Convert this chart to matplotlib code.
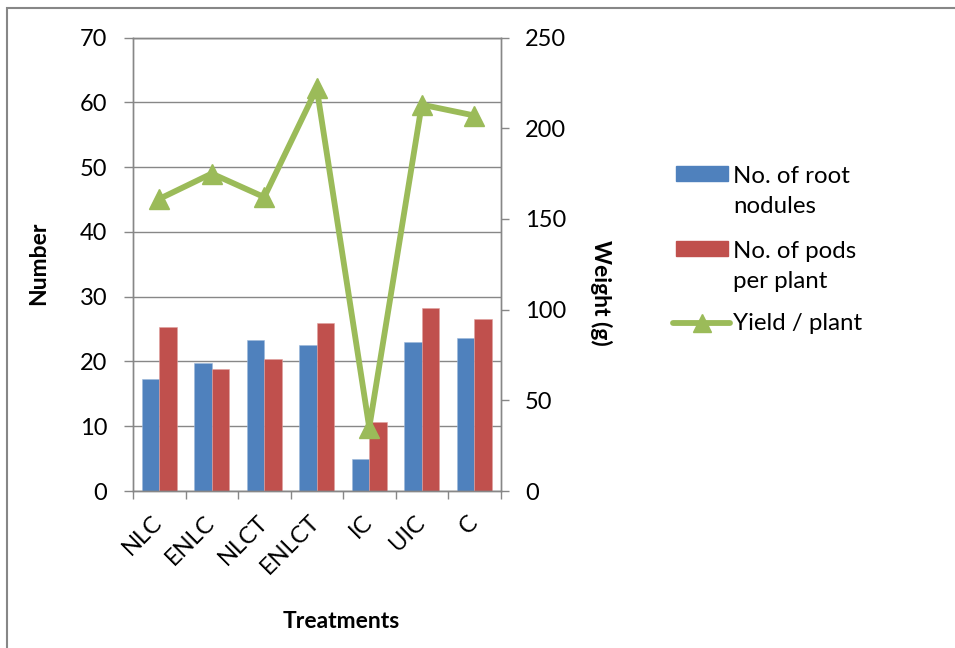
import matplotlib
matplotlib.use("Agg")
import matplotlib.pyplot as plt
from matplotlib.patches import Rectangle
from matplotlib.lines import Line2D
import numpy as np

plt.rcParams['font.family'] = ['Lato', 'DejaVu Sans']

# Data
treatments = ["NLC", "ENLC", "NLCT", "ENLCT", "IC", "UIC", "C"]
root_nodules = [17.3, 19.7, 23.3, 22.6, 4.9, 23.0, 23.6]
pods_per_plant = [25.3, 18.8, 20.3, 25.9, 10.6, 28.3, 26.5]
yield_per_plant = [161, 175, 162, 222, 35, 213, 207]

BLUE = "#4F81BD"
RED = "#C0504D"
GREEN = "#9BBB59"
GRID = "#878787"

W, H = 955, 648
fig = plt.figure(figsize=(W / 100, H / 100), dpi=100)

def fx(px):
    return px / W

def fy(py):
    return 1 - py / H

ax = fig.add_axes([fx(133), fy(491), fx(500.5) - fx(133), fy(37.5) - fy(491)])
x = np.arange(len(treatments))
bw = 0.33
ax.bar(x - bw / 2, root_nodules, width=bw, color=BLUE, edgecolor="#9db8db", linewidth=0.4, zorder=2)
ax.bar(x + bw / 2, pods_per_plant, width=bw, color=RED, edgecolor="#e0a09e", linewidth=0.4, zorder=2)

ax.set_xlim(-0.5, len(treatments) - 0.5)
ax.set_ylim(0, 70)
ax.set_yticks(np.arange(0, 71, 10))
ax.yaxis.grid(True, color=GRID, linewidth=1.0, zorder=0)
ax.set_axisbelow(True)
for side in ["left", "bottom", "right", "top"]:
    ax.spines[side].set_color(GRID)
    ax.spines[side].set_linewidth(1.0)
ax.tick_params(axis="y", direction="out", length=6.5, width=1.0, color=GRID,
               labelsize=17, pad=12)
ax.set_xticks(x)
ax.set_xticklabels(treatments, rotation=45, ha="right", va="center",
                   rotation_mode="anchor", fontsize=17)
ax.tick_params(axis="x", which="major", length=0, pad=20)
ax.set_xticks(np.arange(-0.5, len(treatments), 1), minor=True)
ax.tick_params(axis="x", which="minor", direction="out", length=6, width=1.0, color=GRID)

ax2 = ax.twinx()
ax2.plot(x, yield_per_plant, color=GREEN, linewidth=4.2, marker="^",
         markersize=14.5, markerfacecolor=GREEN, markeredgecolor=GREEN,
         solid_joinstyle="miter", zorder=3)
ax2.set_ylim(0, 250)
ax2.set_yticks(np.arange(0, 251, 50))
for side in ["left", "bottom", "right", "top"]:
    ax2.spines[side].set_color(GRID)
    ax2.spines[side].set_linewidth(1.0)
ax2.tick_params(axis="y", direction="out", length=6, width=1.0, color=GRID,
                labelsize=17, pad=11.5)

# Axis titles
title_fs = 16.5
fig.text(fx(39), fy(263), "Number", fontsize=title_fs, fontweight="bold",
         rotation=90, ha="center", va="center")
fig.text(fx(601), fy(293), "Weight (g)", fontsize=title_fs, fontweight="bold",
         rotation=270, ha="center", va="center")
fig.text(fx(341), fy(621), "Treatments", fontsize=title_fs, fontweight="bold",
         ha="center", va="center")

# Legend
legend_fs = 17.3
fig.patches.append(Rectangle((fx(676), fy(181)), fx(728) - fx(676), fy(166) - fy(181),
                             transform=fig.transFigure, color=BLUE))
fig.text(fx(733), fy(213), "No. of root\nnodules", fontsize=legend_fs,
         ha="left", va="baseline", linespacing=1.55)
fig.patches.append(Rectangle((fx(676), fy(256)), fx(728) - fx(676), fy(241) - fy(256),
                             transform=fig.transFigure, color=RED))
fig.text(fx(733), fy(288), "No. of pods\nper plant", fontsize=legend_fs,
         ha="left", va="baseline", linespacing=1.55)
fig.lines.append(Line2D([fx(673), fx(730)], [fy(323), fy(323)], transform=fig.transFigure,
                        color=GREEN, linewidth=4.2, solid_capstyle="round"))
fig.lines.append(Line2D([fx(701.5)], [fy(323)], transform=fig.transFigure,
                        color=GREEN, marker="^", markersize=12.5, linestyle="none"))
fig.text(fx(733), fy(323), "Yield / plant", fontsize=legend_fs, ha="left", va="center")

# Outer frame
fig.patches.append(Rectangle((fx(7), -0.1), 2, fy(7.5) + 0.1, transform=fig.transFigure,
                             fill=False, edgecolor=GRID, linewidth=1.5))

fig.savefig("out.png", dpi=100)
